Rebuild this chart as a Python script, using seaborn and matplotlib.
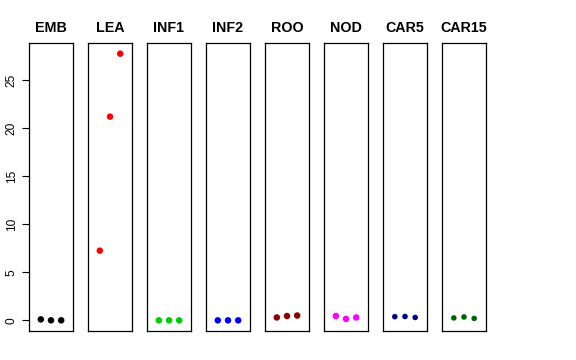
import numpy as np
import pandas as pd
import matplotlib
matplotlib.use("Agg")
import matplotlib.pyplot as plt
import seaborn as sns

# tissues and their colours
tissues = ["EMB", "LEA", "INF1", "INF2", "ROO", "NOD", "CAR5", "CAR15"]
colors = ["#000000", "#ff0000", "#00cd00", "#0000ff", "#8b0000", "#ff00ff", "#00008b", "#006400"]

# three replicate values per tissue
emb = [0.1, 0.0, 0.0]
lea = [7.25, 21.2, 27.75]
inf1 = [0.0, 0.0, 0.0]
inf2 = [0.0, 0.0, 0.0]
roo = [0.3, 0.45, 0.5]
nod = [0.45, 0.15, 0.3]
car5 = [0.38, 0.4, 0.3]
car15 = [0.25, 0.35, 0.2]
values = [emb, lea, inf1, inf2, roo, nod, car5, car15]
yticks = [0, 5, 10, 15, 20, 25]

sns.set_style("white", {"text.color": "black", "axes.labelcolor": "black",
                        "xtick.color": "black", "ytick.color": "black"})
plt.rcParams["font.family"] = ["Liberation Sans", "DejaVu Sans"]

fig = plt.figure(figsize=(5.76, 3.6), dpi=100)

allv = np.concatenate(values)
lo, hi = allv.min(), allv.max()
pad = 0.04 * (hi - lo)

W, H = 576, 360
for i, (name, vals, col) in enumerate(zip(tissues, values, colors)):
    left = 29 + i * 59
    ax = fig.add_axes([left / W, (H - 331) / H, 44 / W, 288 / H])
    df = pd.DataFrame({"rep": [1, 2, 3], "val": vals})
    sz = 16 if name.startswith("CAR") else 22
    sns.scatterplot(data=df, x="rep", y="val", color=col, s=sz,
                    edgecolor="none", ax=ax)
    ax.set_xlim(-0.16, 4.16)
    ax.set_ylim(lo - pad, hi + pad)
    ax.set_xticks([])
    ax.set_xlabel("")
    ax.set_ylabel("")
    for sp in ax.spines.values():
        sp.set_visible(True)
        sp.set_color("black")
        sp.set_linewidth(0.9)
    ax.set_title(name, fontsize=10.3, fontweight="bold", pad=8, color="black")
    if i == 0:
        ax.set_yticks(yticks)
        ax.set_yticklabels([str(t) for t in yticks], rotation=90, va="center",
                           fontsize=8.6, color="black")
        ax.tick_params(axis="y", left=True, length=5, width=0.8, pad=3, colors="black")
    else:
        ax.set_yticks([])

fig.savefig("out.png", dpi=100)
